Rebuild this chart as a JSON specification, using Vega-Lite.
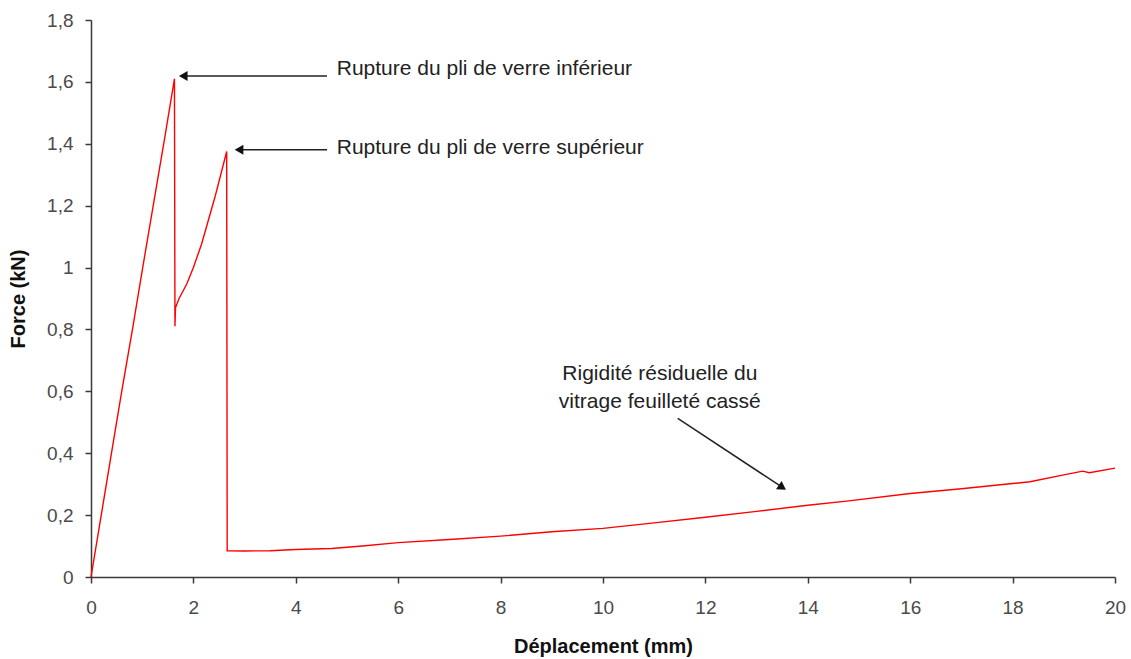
{
  "$schema": "https://vega.github.io/schema/vega-lite/v6.json",
  "width": 1024,
  "height": 557,
  "autosize": {"type": "none"},
  "padding": {"left": 91, "top": 20, "right": 16, "bottom": 82},
  "background": "white",
  "config": {
    "view": {"stroke": null},
    "font": "Liberation Sans",
    "axis": {
      "grid": false,
      "domainColor": "#3a3a3a",
      "domainWidth": 1.5,
      "tickColor": "#3a3a3a",
      "tickWidth": 1.5,
      "tickSize": 6,
      "labelFont": "Liberation Sans",
      "labelFontSize": 19,
      "labelColor": "#4a4a4a",
      "labelFlush": false,
      "titleFont": "Liberation Sans",
      "titleFontSize": 20,
      "titleFontWeight": "bold",
      "titleColor": "#111111"
    }
  },
  "datasets": {
    "curve": [
      {"d": 0, "f": 0},
      {"d": 0.2, "f": 0.2},
      {"d": 0.4, "f": 0.4},
      {"d": 0.6, "f": 0.6},
      {"d": 0.81, "f": 0.8},
      {"d": 1.01, "f": 1.0},
      {"d": 1.215, "f": 1.2},
      {"d": 1.42, "f": 1.4},
      {"d": 1.63, "f": 1.61},
      {"d": 1.64, "f": 0.81},
      {"d": 1.65, "f": 0.87},
      {"d": 1.72, "f": 0.9},
      {"d": 1.87, "f": 0.947},
      {"d": 2.0, "f": 1.0},
      {"d": 2.16, "f": 1.076},
      {"d": 2.42, "f": 1.227},
      {"d": 2.65, "f": 1.375},
      {"d": 2.66, "f": 0.085},
      {"d": 3.0, "f": 0.084},
      {"d": 3.5, "f": 0.085},
      {"d": 4.0, "f": 0.089},
      {"d": 4.7, "f": 0.092},
      {"d": 5.3, "f": 0.1},
      {"d": 6.0, "f": 0.111},
      {"d": 7.0, "f": 0.121},
      {"d": 8.0, "f": 0.132},
      {"d": 9.0, "f": 0.146},
      {"d": 10.0, "f": 0.157},
      {"d": 11.0, "f": 0.175},
      {"d": 12.0, "f": 0.193},
      {"d": 13.0, "f": 0.212},
      {"d": 14.0, "f": 0.232},
      {"d": 14.8, "f": 0.246},
      {"d": 16.0, "f": 0.27},
      {"d": 17.0, "f": 0.285},
      {"d": 18.0, "f": 0.302},
      {"d": 18.34, "f": 0.308},
      {"d": 19.0, "f": 0.33},
      {"d": 19.37, "f": 0.342},
      {"d": 19.5, "f": 0.337},
      {"d": 20.0, "f": 0.352}
    ],
    "arrows": [
      {"x": 4.61, "y": 1.619, "x2": 1.8, "y2": 1.619},
      {"x": 4.61, "y": 1.381, "x2": 2.9, "y2": 1.381},
      {"x": 11.46, "y": 0.513, "x2": 13.49, "y2": 0.291}
    ],
    "heads": [
      {"x": 1.83, "y": 1.619, "angle": 270},
      {"x": 2.92, "y": 1.381, "angle": 270},
      {"x": 13.48, "y": 0.292, "angle": 123.6}
    ],
    "leftLabels": [
      {"x": 4.8, "y": 1.642, "text": "Rupture du pli de verre inférieur"},
      {"x": 4.8, "y": 1.387, "text": "Rupture du pli de verre supérieur"}
    ],
    "centerLabels": [
      {"x": 11.11, "y": 0.655, "text": "Rigidité résiduelle du"},
      {"x": 11.11, "y": 0.565, "text": "vitrage feuilleté cassé"}
    ]
  },
  "layer": [
    {
      "data": {"name": "curve"},
      "mark": {"type": "line", "color": "#ff0000", "strokeWidth": 1.4, "interpolate": "linear"},
      "encoding": {
        "x": {
          "field": "d", "type": "quantitative",
          "scale": {"domain": [0, 20], "nice": false},
          "axis": {"title": "Déplacement (mm)", "values": [0, 2, 4, 6, 8, 10, 12, 14, 16, 18, 20], "labelPadding": 15, "titlePadding": 19, "format": "~g", "labelExpr": "replace(datum.label, '.', ',')"}
        },
        "y": {
          "field": "f", "type": "quantitative",
          "scale": {"domain": [0, 1.8], "nice": false},
          "axis": {"title": "Force (kN)", "values": [0, 0.2, 0.4, 0.6, 0.8, 1, 1.2, 1.4, 1.6, 1.8], "labelPadding": 12, "titlePadding": 18, "format": "~g", "labelExpr": "replace(datum.label, '.', ',')"}
        },
        "order": {"field": "d", "type": "quantitative"}
      }
    },
    {
      "data": {"name": "arrows"},
      "mark": {"type": "rule", "color": "#222222", "strokeWidth": 1.5},
      "encoding": {
        "x": {"field": "x", "type": "quantitative"},
        "y": {"field": "y", "type": "quantitative"},
        "x2": {"field": "x2"},
        "y2": {"field": "y2"}
      }
    },
    {
      "data": {"name": "heads"},
      "mark": {"type": "point", "shape": "triangle", "filled": true, "color": "#111111", "size": 100, "opacity": 1},
      "encoding": {
        "x": {"field": "x", "type": "quantitative"},
        "y": {"field": "y", "type": "quantitative"},
        "angle": {"field": "angle", "type": "quantitative", "scale": null}
      }
    },
    {
      "data": {"name": "leftLabels"},
      "mark": {"type": "text", "fontSize": 21, "font": "Liberation Sans", "color": "#222222", "baseline": "middle", "align": "left"},
      "encoding": {
        "x": {"field": "x", "type": "quantitative"},
        "y": {"field": "y", "type": "quantitative"},
        "text": {"field": "text"}
      }
    },
    {
      "data": {"name": "centerLabels"},
      "mark": {"type": "text", "fontSize": 21, "font": "Liberation Sans", "color": "#222222", "baseline": "middle", "align": "center"},
      "encoding": {
        "x": {"field": "x", "type": "quantitative"},
        "y": {"field": "y", "type": "quantitative"},
        "text": {"field": "text"}
      }
    }
  ]
}
